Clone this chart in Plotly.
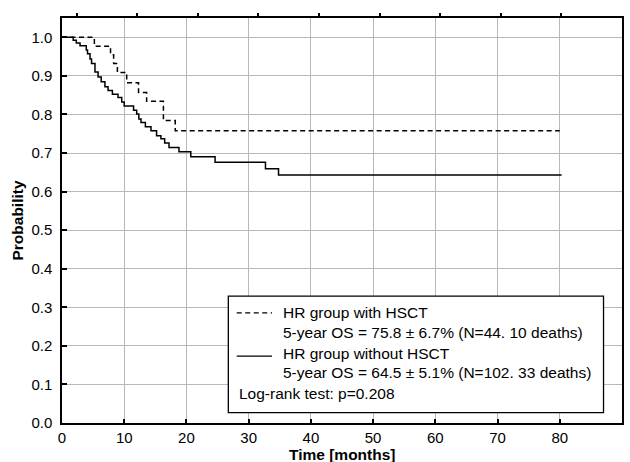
import plotly.graph_objects as go

# ---- data ----
hsct_time = [0, 5.2, 7.8, 8.3, 8.9, 10.4, 12.3, 13.6, 16.3, 18.2, 80.0]
hsct_surv = [1.0, 0.977, 0.955, 0.932, 0.909, 0.882, 0.857, 0.834, 0.784, 0.758, 0.758]

nohsct_time = [0, 1.8, 2.3, 2.9, 3.9, 4.1, 4.5, 4.75, 5.3, 5.8, 6.3, 6.9, 7.4, 8.1, 9.0,
               9.6, 10.0, 11.5, 12.0, 12.35, 12.7, 13.4, 14.3, 15.2, 15.9, 16.5, 17.2,
               18.8, 20.7, 24.6, 32.7, 34.8, 80.3]
nohsct_surv = [1.0, 0.992, 0.985, 0.978, 0.967, 0.957, 0.944, 0.932, 0.910, 0.897, 0.885,
               0.872, 0.862, 0.852, 0.844, 0.832, 0.822, 0.811, 0.801, 0.788, 0.779, 0.768,
               0.758, 0.745, 0.737, 0.726, 0.714, 0.703, 0.690, 0.676, 0.659, 0.643, 0.643]

x_ticks = [0, 10, 20, 30, 40, 50, 60, 70, 80, 90]
y_ticks = [0.0, 0.1, 0.2, 0.3, 0.4, 0.5, 0.6, 0.7, 0.8, 0.9, 1.0]
top_ticks = [0, 1, 2, 3, 4, 5, 6, 7, 8]

legend_names = ["HR group with HSCT", "HR group without HSCT"]
legend_stats = ["5-year OS = 75.8 ± 6.7% (N=44. 10 deaths)",
                "5-year OS = 64.5 ± 5.1% (N=102. 33 deaths)"]
logrank_text = "Log-rank test: p=0.208"
x_title = "Time [months]"
y_title = "Probability"

FONT = "Liberation Sans, Arial, sans-serif"

fig = go.Figure()
fig.add_trace(go.Scatter(x=hsct_time, y=hsct_surv, mode="lines", line_shape="hv",
                         line=dict(color="black", width=1.5, dash="5px,3.5px"),
                         name=legend_names[0], showlegend=False))
fig.add_trace(go.Scatter(x=nohsct_time, y=nohsct_surv, mode="lines", line_shape="hv",
                         line=dict(color="black", width=1.5),
                         name=legend_names[1], showlegend=False))
# empty trace on the secondary top axis so its ticks get drawn
fig.add_trace(go.Scatter(x=top_ticks, y=[None] * len(top_ticks), xaxis="x2", yaxis="y",
                         mode="lines", showlegend=False, hoverinfo="skip"))

# ---- legend box drawn manually ----
bx0, bx1, by0, by1 = 0.297, 0.967, 0.0254, 0.3134
fig.add_shape(type="rect", xref="paper", yref="paper", x0=bx0, x1=bx1, y0=by0, y1=by1,
              line=dict(color="black", width=1.3), fillcolor="white", layer="above")
line_x0, line_x1 = 0.312, 0.375
text_x = 0.391
row_y = [0.272, 0.2225, 0.172, 0.124, 0.073]
fig.add_shape(type="line", xref="paper", yref="paper", x0=line_x0, x1=line_x1,
              y0=row_y[0], y1=row_y[0], line=dict(color="black", width=1.3, dash="5px,3.5px"),
              layer="above")
fig.add_shape(type="line", xref="paper", yref="paper", x0=line_x0, x1=line_x1,
              y0=row_y[2] - 0.007, y1=row_y[2] - 0.007, line=dict(color="black", width=1.3),
              layer="above")
texts = [legend_names[0], legend_stats[0], legend_names[1], legend_stats[1]]
for t, yy in zip(texts, row_y[:4]):
    fig.add_annotation(x=text_x, y=yy, xref="paper", yref="paper", text=t, showarrow=False,
                       xanchor="left", yanchor="middle",
                       font=dict(family=FONT, size=15.5, color="black"))
fig.add_annotation(x=line_x0, y=row_y[4], xref="paper", yref="paper", text=logrank_text,
                   showarrow=False, xanchor="left", yanchor="middle",
                   font=dict(family=FONT, size=15.5, color="black"))
# x-axis title placed where the reference has it (near the canvas bottom edge)
fig.add_annotation(x=0.5, y=-0.079, xref="paper", yref="paper", text="<b>" + x_title + "</b>",
                   showarrow=False, xanchor="center", yanchor="middle",
                   font=dict(family=FONT, size=15.5, color="black"))

fig.update_layout(
    width=630, height=462,
    margin=dict(l=62, r=8, t=18, b=39, autoexpand=False),
    paper_bgcolor="white", plot_bgcolor="white",
    font=dict(family=FONT, size=15, color="black"),
    showlegend=False,
    xaxis=dict(range=[0, 90], tickvals=x_ticks, ticks="inside", ticklen=4, tickwidth=1.5,
               tickcolor="black", showline=True, linecolor="black", linewidth=1.5, mirror=True,
               showgrid=True, gridcolor="#b8b8b8", gridwidth=1.2, zeroline=False,
               automargin=False, ticklabelstandoff=0,
               tickfont=dict(family=FONT, size=15, color="black")),
    # secondary top tick axis (short unlabeled ticks at the top border)
    xaxis2=dict(overlaying="x", side="top", anchor="y", range=[-0.243, 9.0],
                tickmode="array", tickvals=top_ticks, showticklabels=False,
                ticks="outside", ticklen=4, tickwidth=1.5, tickcolor="black",
                showgrid=False, zeroline=False, showline=False, automargin=False),
    yaxis=dict(range=[0, 1.05], tickvals=y_ticks, tickformat=".1f", ticks="inside",
               ticklen=5, tickwidth=1.5, tickcolor="black", showline=True, linecolor="black",
               linewidth=1.5, mirror=True, showgrid=True, gridcolor="#b8b8b8", gridwidth=1.2,
               zeroline=False, automargin=False, ticklabelstandoff=5,
               tickfont=dict(family=FONT, size=15, color="black"),
               title=dict(text="<b>" + y_title + "</b>", standoff=4,
                          font=dict(family=FONT, size=15.5, color="black"))),
)

fig.write_html("out.html")
